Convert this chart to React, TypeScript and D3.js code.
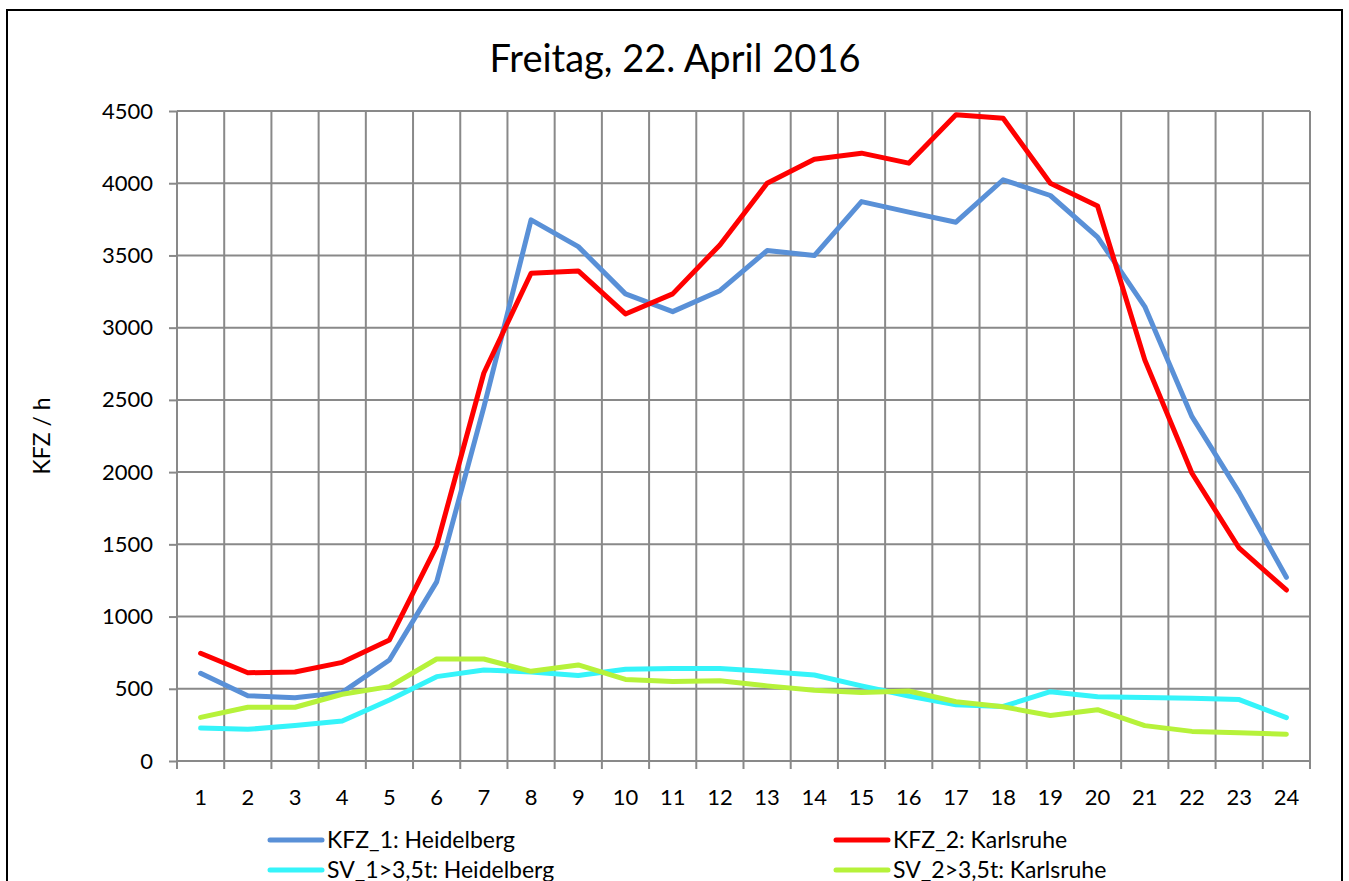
import { useEffect, useRef } from 'react'
import * as d3 from 'd3'

const hours = Array.from({ length: 24 }, (_, i) => String(i + 1))
const yTicks = [0, 500, 1000, 1500, 2000, 2500, 3000, 3500, 4000, 4500]

const kfz1Heidelberg = [607, 452, 438, 475, 699, 1240, 2450, 3746, 3561, 3234, 3111, 3256, 3534, 3499, 3873, 3800, 3730, 4024, 3915, 3627, 3146, 2384, 1858, 1272]
const kfz2Karlsruhe = [746, 611, 616, 683, 838, 1490, 2686, 3377, 3393, 3095, 3234, 3573, 4000, 4166, 4208, 4139, 4474, 4450, 4000, 3843, 2777, 1992, 1473, 1184]
const sv1Heidelberg = [228, 219, 245, 277, 422, 584, 630, 616, 592, 635, 640, 640, 620, 595, 520, 450, 390, 378, 480, 445, 440, 435, 425, 300]
const sv2Karlsruhe = [302, 372, 372, 462, 515, 706, 706, 621, 665, 565, 550, 555, 520, 490, 475, 485, 410, 375, 315, 355, 245, 205, 195, 185]

const series = [
  { name: 'KFZ_1: Heidelberg', values: kfz1Heidelberg, color: '#5990D7' },
  { name: 'KFZ_2: Karlsruhe', values: kfz2Karlsruhe, color: '#FF0000' },
  { name: 'SV_1>3,5t: Heidelberg', values: sv1Heidelberg, color: '#35F4FA' },
  { name: 'SV_2>3,5t: Karlsruhe', values: sv2Karlsruhe, color: '#B6F23A' }
]

const font = 'Lato, Carlito, Calibri, "Open Sans", sans-serif'

export default function App() {
  const svgRef = useRef<SVGSVGElement>(null)

  useEffect(() => {
    if (!svgRef.current) return
    const svg = d3.select(svgRef.current)
    svg.selectAll('*').remove()

    const width = 1349
    const height = 881
    const margin = { top: 111, right: 39, bottom: 120, left: 177 }
    const gridColor = '#898989'

    // outer frame
    svg.append('rect')
      .attr('x', 7)
      .attr('y', 10)
      .attr('width', 1335)
      .attr('height', 900)
      .attr('fill', 'white')
      .attr('stroke', '#000')
      .attr('stroke-width', 2)

    const xScale = d3.scaleBand<string>()
      .domain(hours)
      .range([margin.left, width - margin.right])
      .padding(0)

    const yScale = d3.scaleLinear()
      .domain([0, 4500])
      .range([height - margin.bottom, margin.top])

    const bw = xScale.bandwidth()
    const bottom = yScale(0)

    // y ticks + labels
    const yAxis = d3.axisLeft(yScale)
      .tickValues(yTicks)
      .tickFormat(d3.format('d'))
      .tickSize(8)
      .tickPadding(16)
    const yg = svg.append('g')
      .attr('transform', `translate(${margin.left}, 0)`)
      .call(yAxis)
    yg.select('.domain').remove()
    yg.selectAll('line').attr('stroke', gridColor).attr('stroke-width', 2)
    yg.selectAll('text')
      .style('font-family', font)
      .style('font-size', '22px')
      .attr('fill', '#000')

    // horizontal grid
    svg.append('g')
      .selectAll('line')
      .data(yTicks)
      .join('line')
      .attr('x1', margin.left)
      .attr('x2', width - margin.right)
      .attr('y1', d => yScale(d))
      .attr('y2', d => yScale(d))
      .attr('stroke', gridColor)
      .attr('stroke-width', 2)

    // vertical grid at category boundaries
    const bounds = hours.map(h => xScale(h) as number).concat([width - margin.right])
    svg.append('g')
      .selectAll('line')
      .data(bounds)
      .join('line')
      .attr('x1', d => d)
      .attr('x2', d => d)
      .attr('y1', margin.top)
      .attr('y2', bottom + 8)
      .attr('stroke', gridColor)
      .attr('stroke-width', 2)

    // x labels
    svg.append('g')
      .selectAll('text')
      .data(hours)
      .join('text')
      .attr('x', d => (xScale(d) as number) + bw / 2)
      .attr('y', bottom + 44)
      .attr('text-anchor', 'middle')
      .style('font-family', font)
      .style('font-size', '22px')
      .text(d => d)

    // lines
    const line = d3.line<number>()
      .x((_, i) => (xScale(hours[i]) as number) + bw / 2)
      .y(d => yScale(d))

    series.forEach(s => {
      svg.append('path')
        .datum(s.values)
        .attr('fill', 'none')
        .attr('stroke', s.color)
        .attr('stroke-width', 5)
        .attr('stroke-linejoin', 'round')
        .attr('stroke-linecap', 'round')
        .attr('d', line)
    })

    // title
    svg.append('text')
      .attr('x', 675)
      .attr('y', 72)
      .attr('text-anchor', 'middle')
      .style('font-family', font)
      .style('font-size', '38px')
      .text('Freitag, 22. April 2016')

    // y label
    svg.append('text')
      .attr('transform', `translate(50, 436) rotate(-90)`)
      .attr('text-anchor', 'middle')
      .style('font-family', font)
      .style('font-size', '23px')
      .text('KFZ / h')

    // legend
    const legendPos = [
      { x: 270, y: 840 },
      { x: 836, y: 840 },
      { x: 270, y: 870 },
      { x: 836, y: 870 }
    ]
    series.forEach((s, i) => {
      const p = legendPos[i]
      svg.append('line')
        .attr('x1', p.x)
        .attr('x2', p.x + 52)
        .attr('y1', p.y)
        .attr('y2', p.y)
        .attr('stroke', s.color)
        .attr('stroke-width', 5)
        .attr('stroke-linecap', 'round')
      svg.append('text')
        .attr('x', p.x + 57)
        .attr('y', p.y + 8)
        .style('font-family', font)
        .style('font-size', '23px')
        .text(s.name)
    })
  }, [])

  return (
    <svg
      ref={svgRef}
      width={1349}
      height={881}
      style={{ position: 'absolute', left: 0, top: 0, background: 'white' }}
    />
  )
}
